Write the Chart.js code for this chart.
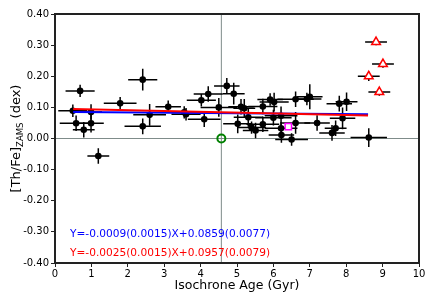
<!DOCTYPE html>
<html>
<head>
<meta charset="utf-8">
<script src="https://cdn.jsdelivr.net/npm/chart.js@4.4.0/dist/chart.umd.min.js"></script>
<style>
  html, body { margin: 0; padding: 0; background: #fff; }
  #wrap { width: 436px; height: 302px; }
</style>
</head>
<body>
<div id="wrap"><canvas id="thfeChart" width="436" height="302"></canvas></div>
<script>
/* ================= DATA ================= */
// black points: age (Gyr), [Th/Fe], errors
const ageVals = [0.49, 0.58, 0.69, 0.79, 0.99, 0.99, 1.19, 1.79, 2.41, 2.41, 2.60, 3.11, 3.55, 3.60,
  4.02, 4.21, 4.10, 4.50, 4.72, 4.91, 5.02, 5.11, 5.20, 5.31, 5.40, 5.51, 5.71, 5.71, 5.91, 6.02,
  6.00, 6.21, 6.21, 6.22, 6.50, 6.61, 6.61, 6.92, 7.00, 7.20, 7.61, 7.71, 7.81, 8.01, 7.90, 8.62];
const thfeVals = [0.089, 0.049, 0.153, 0.028, 0.049, 0.085, -0.056, 0.113, 0.189, 0.039, 0.076, 0.102, 0.084, 0.078,
  0.123, 0.143, 0.062, 0.100, 0.169, 0.144, 0.047, 0.102, 0.097, 0.068, 0.035, 0.026, 0.103, 0.046, 0.125, 0.117,
  0.067, 0.073, 0.033, 0.011, -0.003, 0.050, 0.126, 0.127, 0.134, 0.050, 0.018, 0.033, 0.112, 0.118, 0.065, 0.003];
const ageErr = [0.40, 0.45, 0.40, 0.30, 0.35, 0.30, 0.30, 0.45, 0.40, 0.50, 0.45, 0.35, 0.45, 0.40,
  0.40, 0.40, 0.45, 0.50, 0.35, 0.30, 0.40, 0.35, 0.30, 0.40, 0.40, 0.35, 0.40, 0.45, 0.35, 0.40,
  0.50, 0.45, 0.45, 0.35, 0.45, 0.40, 0.50, 0.40, 0.35, 0.35, 0.35, 0.30, 0.35, 0.30, 0.35, 0.50];
const thfeErr = [0.020, 0.025, 0.020, 0.025, 0.030, 0.025, 0.025, 0.020, 0.035, 0.025, 0.035, 0.020, 0.020, 0.020,
  0.020, 0.025, 0.025, 0.030, 0.025, 0.035, 0.030, 0.025, 0.030, 0.030, 0.020, 0.025, 0.025, 0.025, 0.020, 0.030,
  0.025, 0.030, 0.020, 0.025, 0.020, 0.035, 0.025, 0.020, 0.040, 0.025, 0.025, 0.025, 0.025, 0.030, 0.035, 0.030];

// red open triangles
const triAge = [8.82, 9.01, 8.62, 8.91];
const triThfe = [0.310, 0.239, 0.200, 0.149];
const triAgeErr = [0.30, 0.30, 0.30, 0.30];
const triThfeErr = [0.010, 0.012, 0.015, 0.012];

// sun (green circle) and magenta square
const sunAge = [4.57];
const sunThfe = [0.0];
const sqAge = [6.41];
const sqThfe = [0.038];

// linear fits
const fitRange = [0.5, 8.6];
const blueFit = { slope: -0.0009, icpt: 0.0859 };
const redFit = { slope: -0.0025, icpt: 0.0957 };
const blueLabel = "Y=-0.0009(0.0015)X+0.0859(0.0077)";
const redLabel = "Y=-0.0025(0.0015)X+0.0957(0.0079)";

const FONT = "'DejaVu Sans', Verdana, sans-serif";

function pts(xs, ys) {
  return xs.map((x, i) => ({ x: x, y: ys[i] }));
}
function fitLine(f) {
  return fitRange.map(x => ({ x: x, y: f.slope * x + f.icpt }));
}

/* ================= PLUGIN: ref lines, error bars, frame, titles ================= */
const extras = {
  id: "extras",
  beforeDatasetsDraw(chart) {
    const { ctx, chartArea: a, scales: { x, y } } = chart;
    ctx.save();
    // reference lines
    ctx.strokeStyle = "#7f8c8a";
    ctx.lineWidth = 1;
    ctx.beginPath();
    ctx.moveTo(a.left, y.getPixelForValue(0));
    ctx.lineTo(a.right, y.getPixelForValue(0));
    ctx.moveTo(x.getPixelForValue(sunAge[0]), a.top);
    ctx.lineTo(x.getPixelForValue(sunAge[0]), a.bottom);
    ctx.stroke();

    // error bars
    ctx.strokeStyle = "#000";
    ctx.lineWidth = 1.5;
    const bars = (xs, ys, xe, ye) => {
      xs.forEach((v, i) => {
        const px = x.getPixelForValue(v), py = y.getPixelForValue(ys[i]);
        ctx.beginPath();
        ctx.moveTo(x.getPixelForValue(v - xe[i]), py);
        ctx.lineTo(x.getPixelForValue(v + xe[i]), py);
        ctx.moveTo(px, y.getPixelForValue(ys[i] - ye[i]));
        ctx.lineTo(px, y.getPixelForValue(ys[i] + ye[i]));
        ctx.stroke();
      });
    };
    bars(ageVals, thfeVals, ageErr, thfeErr);
    bars(triAge, triThfe, triAgeErr, triThfeErr);
    ctx.restore();
  },
  afterDraw(chart) {
    const { ctx, chartArea: a } = chart;
    ctx.save();
    // frame
    ctx.strokeStyle = "#222";
    ctx.lineWidth = 2;
    ctx.strokeRect(a.left, a.top, a.right - a.left, a.bottom - a.top);

    // fit labels
    ctx.font = "10.6px " + FONT;
    ctx.textAlign = "left";
    ctx.textBaseline = "middle";
    ctx.fillStyle = "#0000ff";
    ctx.fillText(blueLabel, 70, 234);
    ctx.fillStyle = "#ff0000";
    ctx.fillText(redLabel, 70, 253);

    // x title
    ctx.fillStyle = "#000";
    ctx.font = "12.5px " + FONT;
    ctx.textAlign = "center";
    ctx.fillText("Isochrone Age (Gyr)", (a.left + a.right) / 2 + 0, 286);

    // y title with subscript
    ctx.translate(17, (a.top + a.bottom) / 2);
    ctx.rotate(-Math.PI / 2);
    const main = "[Th/Fe]", sub = "ZAMS", tail = " (dex)";
    ctx.font = "13px " + FONT;
    const w1 = ctx.measureText(main).width, w3 = ctx.measureText(tail).width;
    ctx.font = "8.5px " + FONT;
    const w2 = ctx.measureText(sub).width;
    let cx = -(w1 + w2 + w3) / 2;
    ctx.textAlign = "left";
    ctx.font = "13px " + FONT;
    ctx.fillText(main, cx, 0);
    cx += w1;
    ctx.font = "8.5px " + FONT;
    ctx.fillText(sub, cx, 4);
    cx += w2;
    ctx.font = "13px " + FONT;
    ctx.fillText(tail, cx, 0);
    ctx.restore();
  }
};

/* ================= CHART ================= */
new Chart(document.getElementById("thfeChart"), {
  type: "scatter",
  data: {
    datasets: [
      {
        type: "line", data: fitLine(redFit), borderColor: "#ff0000", borderWidth: 2,
        pointRadius: 0, fill: false
      },
      {
        type: "line", data: fitLine(blueFit), borderColor: "#0000ff", borderWidth: 2,
        pointRadius: 0, fill: false
      },
      {
        data: pts(ageVals, thfeVals), backgroundColor: "#000", borderColor: "#000",
        pointRadius: 3.3, borderWidth: 0
      },
      {
        data: pts(triAge, triThfe), pointStyle: "triangle", backgroundColor: "#fff",
        borderColor: "#ff0000", borderWidth: 1.5, pointRadius: 5
      },
      {
        data: pts(sunAge, sunThfe), backgroundColor: "rgba(0,0,0,0)", borderColor: "#008000",
        borderWidth: 2, pointRadius: 4
      },
      {
        data: pts(sqAge, sqThfe), pointStyle: "rect", backgroundColor: "#fff",
        borderColor: "#ff00ff", borderWidth: 1.5, pointRadius: 4.5
      }
    ]
  },
  options: {
    responsive: false,
    animation: false,
    events: [],
    layout: { padding: { top: 14, right: 17, left: 0, bottom: 0 } },
    plugins: { legend: { display: false }, tooltip: { enabled: false } },
    scales: {
      x: {
        type: "linear", min: 0, max: 10,
        afterFit(scale) { scale.height = 39; },
        ticks: { stepSize: 1, color: "#000", font: { family: FONT, size: 10 }, padding: 1, maxRotation: 0 },
        grid: { display: true, drawOnChartArea: false, drawTicks: true, tickLength: 4, color: "#222" },
        border: { color: "#222", width: 2 }
      },
      y: {
        type: "linear", min: -0.4, max: 0.4,
        afterFit(scale) { scale.width = 55; },
        ticks: {
          stepSize: 0.1, color: "#000", font: { family: FONT, size: 10 }, padding: 2,
          callback: v => v.toFixed(2)
        },
        grid: { display: true, drawOnChartArea: false, drawTicks: true, tickLength: 4, color: "#222" },
        border: { color: "#222", width: 2 }
      }
    }
  },
  plugins: [extras]
});
</script>
</body>
</html>
